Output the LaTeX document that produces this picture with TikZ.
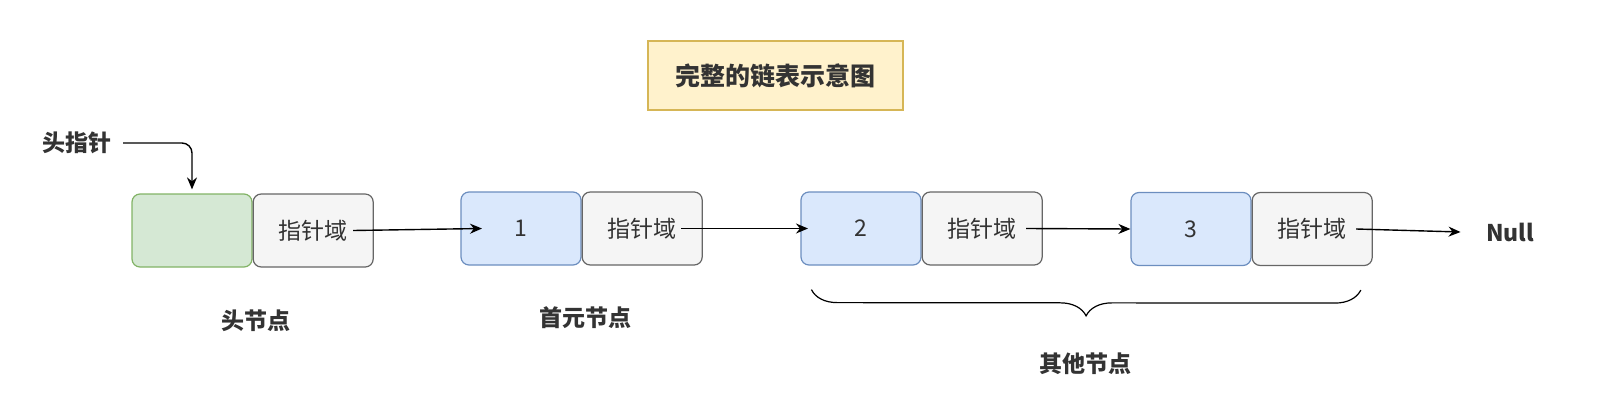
\documentclass[tikz,border=0pt]{standalone}
\usepackage{fontspec}
\newfontfamily\cjk{Noto Sans CJK SC}
\usetikzlibrary{positioning,arrows.meta,decorations.pathreplacing}
\definecolor{txtgray}{HTML}{333333}
\definecolor{headfill}{HTML}{D5E8D4}
\definecolor{headline}{HTML}{82B366}
\definecolor{datafill}{HTML}{DAE8FC}
\definecolor{dataline}{HTML}{6C8EBF}
\definecolor{ptrfill}{HTML}{F5F5F5}
\definecolor{ptrline}{HTML}{666666}
\definecolor{titlefill}{HTML}{FFF2CC}
\definecolor{titleline}{HTML}{D6B656}
\tikzset{
  cell/.style={rounded corners=8pt, line width=1.2pt, minimum width=120pt,
    minimum height=73pt, inner sep=0pt, text=txtgray,
    font=\cjk\fontsize{23}{27}\selectfont},
  headcell/.style={cell, fill=headfill, draw=headline},
  datacell/.style={cell, fill=datafill, draw=dataline},
  ptrcell/.style={cell, fill=ptrfill, draw=ptrline},
  tag/.style={text=txtgray, font=\cjk\bfseries\fontsize{23}{27}\selectfont},
  link/.style={-{Stealth[length=12pt,width=10pt]}, line width=1.4pt}
}
\begin{document}
\begin{tikzpicture}[x=1pt,y=-1pt]
    \useasboundingbox (0,0) rectangle (1610,415);
    % Title
    \node[draw=titleline, fill=titlefill, line width=1.2pt, minimum width=255pt,
      minimum height=69pt, text=txtgray, font=\cjk\bfseries\fontsize{25}{29}\selectfont]
      (title) at (775.5,75.5) {完整的链表示意图};
    % Head node
    \node[headcell] (hd) at (192,230.5) {};
    \node[ptrcell, right=0pt of hd] (hp) {指针域};
    \node[tag] (hptr) at (77,143) {头指针};
    \draw[link, rounded corners=10pt] ([xshift=8pt]hptr.east) -| ([yshift=4pt]hd.north);
    % Data nodes
    \node[datacell] (n1) at (521,228.5) {1};
    \node[ptrcell, right=0pt of n1] (p1) {指针域};
    \node[datacell] (n2) at (861,228.5) {2};
    \node[ptrcell, right=0pt of n2] (p2) {指针域};
    \node[datacell] (n3) at (1191,229) {3};
    \node[ptrcell, right=0pt of n3] (p3) {指针域};
    \node[tag] (null) at (1510,232) {Null};
    % Links
    \draw[link] ([xshift=40pt]hp.center) -- ([xshift=-39pt]n1.center);
    \draw[link] ([xshift=39pt]p1.center) -- ([xshift=-53pt]n2.center);
    \draw[link] ([xshift=44pt]p2.center) -- (n3.west);
    \draw[link] ([xshift=44pt]p3.center) -- ([xshift=-22pt]null.west);
    % Labels
    \node[tag] (hlbl) at (256,321) {头节点};
    \node[tag] (flbl) at (585,318) {首元节点};
    \coordinate (bl) at ([xshift=11pt,yshift=-24pt]n2.south west);
    \coordinate (br) at ([xshift=-12pt,yshift=-24pt]p3.south east);
    \draw[line width=1.2pt, decorate, decoration={brace, mirror, amplitude=26pt}] (bl) -- (br);
    \node[tag] (olbl) at (1085,364) {其他节点};
\end{tikzpicture}
\end{document}
